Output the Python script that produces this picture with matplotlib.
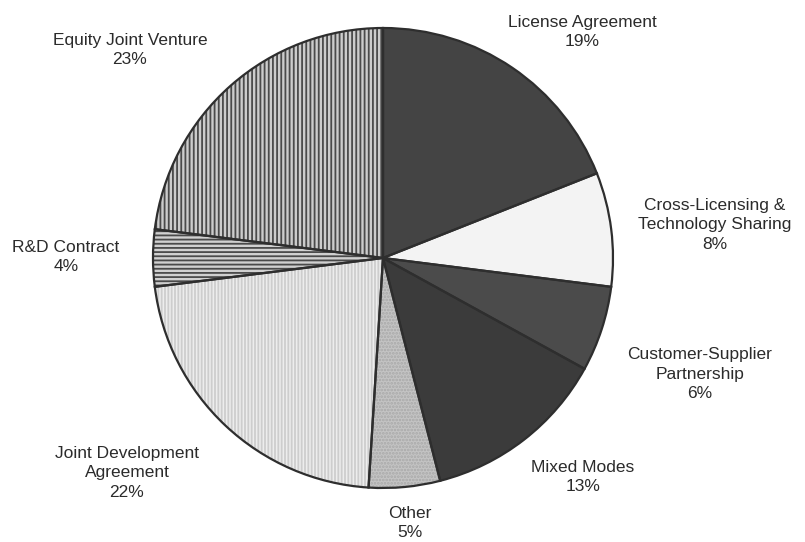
import matplotlib
matplotlib.use('Agg')
import matplotlib.pyplot as plt

# data: modes of technology partnership, share in %
labels = ['License Agreement', 'Cross-Licensing &\nTechnology Sharing',
          'Customer-Supplier\nPartnership', 'Mixed Modes', 'Other',
          'Joint Development\nAgreement', 'R&D Contract', 'Equity Joint Venture']
shares = [19, 8, 6, 13, 5, 22, 4, 23]

# look of each wedge: face colour, hatch, hatch colour
faces = ['#444444', '#f3f3f3', '#4b4b4b', '#3b3b3b', '#c4c4c4', '#ededed', '#d0d0d0', '#cccccc']
hatches = [None, None, None, None, '.....', '|||||', '----', '||||']
hatch_cols = ['#444444', '#f3f3f3', '#4b4b4b', '#3b3b3b', '#a8a8a8', '#cdcdcd', '#4a4a4a', '#4a4a4a']

# label centres in pixels (x from left, y from top)
label_px = [(582, 32), (715, 225), (700, 374), (583, 477), (410, 523),
            (127, 473), (66, 257), (130, 50)]

W, H = 805, 542
cx, cy, r = 383, 258, 230

plt.rcParams['font.family'] = ['Liberation Sans', 'DejaVu Sans']
plt.rcParams['hatch.linewidth'] = 1.3

fig = plt.figure(figsize=(W / 100, H / 100), dpi=100)
ax = fig.add_axes([(cx - r) / W, (H - cy - r) / H, 2 * r / W, 2 * r / H])

wedges, _ = ax.pie(shares, startangle=90, counterclock=False, radius=1,
                   wedgeprops=dict(linewidth=0))
for w, fc, h, hc in zip(wedges, faces, hatches, hatch_cols):
    w.set_facecolor(fc)
    w.set_edgecolor(hc)
    w.set_linewidth(0)
    if h:
        w.set_hatch(h)

# outlines on top
ax.pie(shares, startangle=90, counterclock=False, radius=1,
       wedgeprops=dict(fill=False, edgecolor='#2e2e2e', linewidth=1.6))

for lab, s, (px, py) in zip(labels, shares, label_px):
    ax.text((px - cx) / r, (cy - py) / r, f'{lab}\n{s}%', ha='center', va='center',
            multialignment='center', fontsize=12.5, color='#2b2b2b',
            linespacing=1.35, clip_on=False)

ax.set_xlim(-1, 1)
ax.set_ylim(-1, 1)
ax.set_aspect('equal')
ax.axis('off')

fig.savefig('out.png', dpi=100, facecolor='white')
